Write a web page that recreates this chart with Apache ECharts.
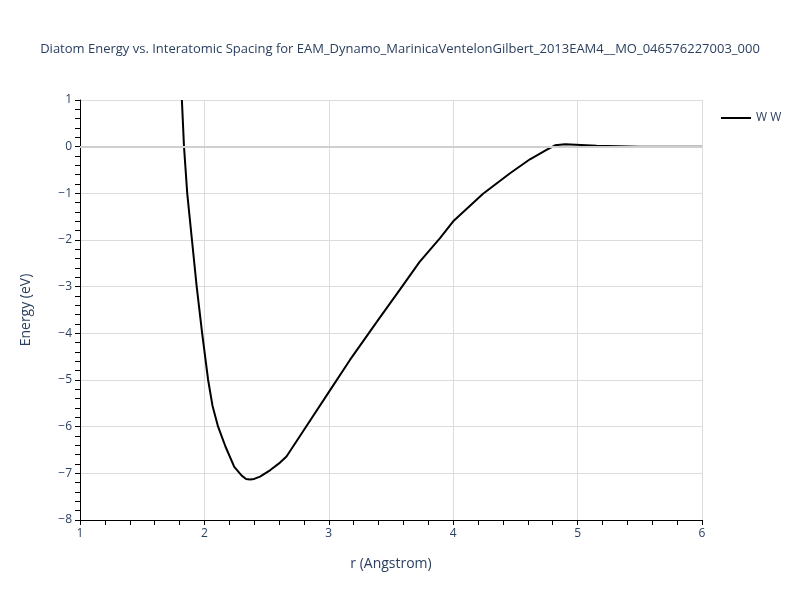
<!DOCTYPE html>
<html>
<head>
<meta charset="utf-8">
<script src="https://cdn.jsdelivr.net/npm/echarts@6/dist/echarts.min.js"></script>
<style>html,body{margin:0;padding:0;background:#fff;}#c{width:800px;height:600px;}</style>
</head>
<body>
<div id="c"></div>
<script>
const titleText = 'Diatom Energy vs. Interatomic Spacing for EAM_Dynamo_MarinicaVentelonGilbert_2013EAM4__MO_046576227003_000';
const seriesName = 'W W';
const rValues = [1.819, 1.836, 1.862, 1.900, 1.938, 1.982, 2.03, 2.065, 2.11, 2.17, 2.24, 2.30, 2.335, 2.367, 2.40, 2.447, 2.53, 2.608, 2.66, 2.8, 3.0, 3.17, 3.4, 3.57, 3.73, 3.894, 4.0, 4.24, 4.457, 4.617, 4.75, 4.818, 4.9, 5.153, 5.5, 6.0];
const energyValues = [1, 0, -1, -2, -3, -4, -5, -5.55, -6, -6.43, -6.86, -7.05, -7.12, -7.13, -7.12, -7.07, -6.93, -6.77, -6.64, -6.07, -5.26, -4.57, -3.7, -3.07, -2.47, -1.96, -1.6, -1.01, -0.57, -0.27, -0.07, 0.03, 0.05, 0.02, 0.0, 0.0];
const xLabel = 'r (Angstrom)';
const yLabel = 'Energy (eV)';

const txt = '#2a3f5f';
const fontFam = '"Open Sans", verdana, arial, sans-serif';
const fmt = v => String(v).replace('-', '\u2212');
const chart = echarts.init(document.getElementById('c'), null, {renderer: 'canvas'});
chart.setOption({
  animation: false,
  backgroundColor: '#fff',
  textStyle: {fontFamily: fontFam},
  title: {text: titleText, left: 'center', top: 38, textStyle: {fontSize: 13, fontWeight: 'normal', color: txt, fontFamily: fontFam}},
  legend: {data: [seriesName], left: 716, top: 107, icon: 'rect', itemWidth: 30, itemHeight: 2, itemGap: 6,
    textStyle: {fontSize: 12, color: txt, fontFamily: fontFam}},
  grid: {left: 80, right: 98, top: 100, bottom: 80, containLabel: false},
  xAxis: {type: 'value', min: 1, max: 6, interval: 1,
    name: xLabel, nameLocation: 'middle', nameGap: 37, nameTextStyle: {fontSize: 14, color: txt},
    axisLine: {show: true, onZero: false, lineStyle: {color: '#000', width: 1}},
    axisTick: {show: true, inside: false, length: 5, lineStyle: {color: '#000'}},
    minorTick: {show: true, splitNumber: 5, length: 5, lineStyle: {color: '#000'}},
    axisLabel: {fontSize: 12, color: txt, margin: 8, formatter: fmt},
    splitLine: {show: true, lineStyle: {color: '#dcdcdc', width: 1}}},
  yAxis: {type: 'value', min: -8, max: 1, interval: 1,
    name: yLabel, nameLocation: 'middle', nameGap: 47, nameTextStyle: {fontSize: 14, color: txt},
    axisLine: {show: true, onZero: false, lineStyle: {color: '#000', width: 1}},
    axisTick: {show: true, inside: false, length: 5, lineStyle: {color: '#000'}},
    minorTick: {show: true, splitNumber: 5, length: 5, lineStyle: {color: '#000'}},
    axisLabel: {fontSize: 12, color: txt, margin: 8, formatter: fmt},
    splitLine: {show: true, lineStyle: {color: '#dcdcdc', width: 1}}},
  series: [{
    name: seriesName, type: 'line', showSymbol: false, symbol: 'none', smooth: false,
    data: rValues.map((r, i) => [r, energyValues[i]]),
    lineStyle: {color: '#000', width: 2}, itemStyle: {color: '#000'},
    markLine: {silent: true, symbol: 'none', label: {show: false}, lineStyle: {color: '#cfcfcf', width: 2, type: 'solid'},
      data: [{yAxis: 0}]},
    z: 3
  }]
});
</script>
</body>
</html>
